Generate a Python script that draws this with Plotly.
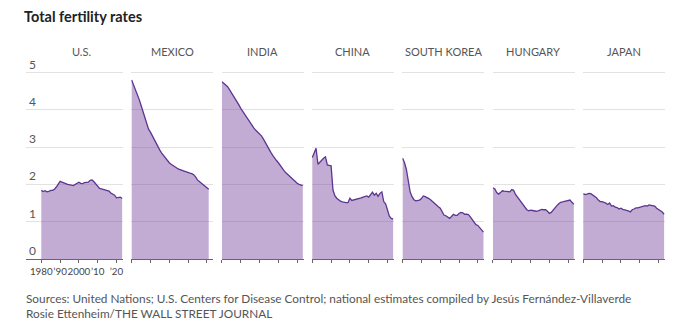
import plotly.graph_objects as go

# ---------------- data ----------------
countries = ["U.S.", "MEXICO", "INDIA", "CHINA", "SOUTH KOREA", "HUNGARY", "JAPAN"]

years = list(range(1980, 2024))
years_mexico = list(range(1980, 2022))

us = [1.84, 1.81, 1.83, 1.80, 1.81, 1.84, 1.84, 1.87, 1.93, 2.01,
      2.08, 2.06, 2.05, 2.02, 2.00, 1.98, 1.98, 1.97, 2.00, 2.01,
      2.06, 2.03, 2.02, 2.05, 2.05, 2.06, 2.11, 2.12, 2.07, 2.00,
      1.93, 1.89, 1.88, 1.86, 1.86, 1.84, 1.82, 1.77, 1.73, 1.71,
      1.64, 1.66, 1.66, 1.62]

mexico = [4.80, 4.68, 4.56, 4.44, 4.28, 4.12, 3.96, 3.80, 3.63, 3.48,
          3.40, 3.30, 3.19, 3.10, 3.01, 2.92, 2.84, 2.77, 2.70, 2.63,
          2.58, 2.54, 2.50, 2.47, 2.44, 2.41, 2.39, 2.36, 2.34, 2.32,
          2.31, 2.30, 2.29, 2.26, 2.20, 2.12, 2.08, 2.04, 2.00, 1.95,
          1.91, 1.87]

india = [4.75, 4.70, 4.66, 4.62, 4.54, 4.46, 4.39, 4.32, 4.23, 4.13,
         4.04, 3.96, 3.88, 3.80, 3.72, 3.65, 3.58, 3.51, 3.45, 3.40,
         3.35, 3.30, 3.22, 3.12, 3.03, 2.95, 2.86, 2.78, 2.70, 2.64,
         2.58, 2.50, 2.43, 2.37, 2.31, 2.26, 2.21, 2.16, 2.12, 2.07,
         2.03, 2.00, 1.98, 1.97]

china = [2.72, 2.85, 2.97, 2.54, 2.60, 2.63, 2.70, 2.74, 2.52, 2.51,
         2.50, 1.85, 1.70, 1.63, 1.58, 1.55, 1.53, 1.51, 1.51, 1.51,
         1.63, 1.57, 1.58, 1.59, 1.60, 1.62, 1.64, 1.66, 1.68, 1.69,
         1.66, 1.72, 1.79, 1.71, 1.76, 1.68, 1.76, 1.80, 1.54, 1.48,
         1.28, 1.15, 1.09, 1.07]

south_korea = [2.70, 2.58, 2.40, 2.06, 1.80, 1.67, 1.59, 1.56, 1.56, 1.58,
               1.62, 1.69, 1.67, 1.65, 1.62, 1.58, 1.53, 1.48, 1.43, 1.40,
               1.36, 1.26, 1.18, 1.16, 1.12, 1.09, 1.14, 1.20, 1.17, 1.17,
               1.22, 1.25, 1.24, 1.20, 1.20, 1.19, 1.13, 1.05, 0.97, 0.92,
               0.90, 0.84, 0.76, 0.72]

hungary = [1.91, 1.88, 1.78, 1.74, 1.78, 1.83, 1.82, 1.81, 1.80, 1.80,
           1.86, 1.84, 1.73, 1.66, 1.60, 1.51, 1.43, 1.36, 1.32, 1.29,
           1.31, 1.30, 1.28, 1.28, 1.29, 1.32, 1.33, 1.32, 1.32, 1.28,
           1.22, 1.25, 1.32, 1.36, 1.43, 1.48, 1.52, 1.53, 1.54, 1.54,
           1.56, 1.58, 1.52, 1.47]

japan = [1.75, 1.73, 1.74, 1.76, 1.75, 1.72, 1.68, 1.64, 1.58, 1.54,
         1.54, 1.53, 1.50, 1.46, 1.50, 1.42, 1.43, 1.39, 1.38, 1.34,
         1.36, 1.33, 1.32, 1.29, 1.29, 1.26, 1.32, 1.34, 1.37, 1.37,
         1.39, 1.39, 1.41, 1.43, 1.42, 1.45, 1.44, 1.43, 1.42, 1.36,
         1.33, 1.30, 1.26, 1.20]

series = [
    (years, us), (years_mexico, mexico), (years, india), (years, china),
    (years, south_korea), (years, hungary), (years, japan),
]

tick_vals = [1980, 1990, 2000, 2010, 2020]
tick_text = ["1980", "\u201990", "2000", "\u201910", "\u201920"]
y_ticks = [0, 1, 2, 3, 4, 5]

title_text = "Total fertility rates"
source_text = ("Sources: United Nations; U.S. Centers for Disease Control; national estimates "
               "compiled by Jesús Fernández-Villaverde<br>Rosie Ettenheim/THE WALL STREET JOURNAL")

# ---------------- style / layout ----------------
W, H = 690, 334
FONT = "Lato"
LINE = "#5b3590"
FILL = "rgba(120,72,160,0.45)"
GRID = "#e2e2e2"
AXIS = "#666666"

px_per_year = 1.88
first_x0 = 41.3          # pixel of 1980 in first panel
pitch = 90.33
right_year = 2023.4
left_year = 1979.8
label_left = 26          # first panel extends left to hold y labels

top_px, bottom_px = 70, 259
plot_h = bottom_px - top_px
y_max = plot_h / 37.3

fig = go.Figure()
layout = dict(
    width=W, height=H,
    margin=dict(l=0, r=0, t=top_px, b=H - bottom_px),
    paper_bgcolor="white", plot_bgcolor="white",
    showlegend=False,
    font=dict(family=FONT, color="#555"),
    annotations=[],
)

for i, (name, (xs, ys)) in enumerate(zip(countries, series)):
    n = "" if i == 0 else str(i + 1)
    x0 = first_x0 + pitch * i
    if i == 0:
        l_px = label_left
        r_start = 1980 - (x0 - label_left) / px_per_year
    else:
        l_px = x0 - (1980 - left_year) * px_per_year
        r_start = left_year
    r_px = x0 + (right_year - 1980) * px_per_year

    fig.add_trace(go.Scatter(
        x=xs, y=ys, mode="lines",
        line=dict(color=LINE, width=1.3),
        fill="tozeroy", fillcolor=FILL,
        xaxis="x" + n, yaxis="y" + n, hoverinfo="skip",
    ))

    layout["xaxis" + n] = dict(
        domain=[l_px / W, r_px / W], range=[r_start, right_year],
        anchor="y" + n, tickvals=tick_vals, ticktext=tick_text,
        showticklabels=(i == 0), ticks="outside", ticklen=3, tickcolor=AXIS,
        tickangle=0,
        showgrid=False, zeroline=False, showline=True, linecolor=AXIS, linewidth=1,
        tickfont=dict(size=9.8, color="#444", family=FONT),
        fixedrange=True,
    )
    layout["yaxis" + n] = dict(
        domain=[0, 1], range=[0, y_max], anchor="x" + n,
        tickvals=y_ticks, showticklabels=False, ticks="",
        showgrid=True, gridcolor=GRID, gridwidth=1, zeroline=False,
        fixedrange=True,
    )

    cx = (x0 + (2023 - 1980) * px_per_year / 2) / W
    layout["annotations"].append(dict(
        text=name, xref="paper", yref="paper",
        x=cx, y=(bottom_px - 52) / plot_h, xanchor="center", yanchor="middle",
        showarrow=False, font=dict(size=11, color="#555", family=FONT),
    ))

# y-axis labels sitting just above their gridlines in the first panel
for v in y_ticks:
    layout["annotations"].append(dict(
        text=str(v), xref="paper", yref="y", x=(label_left + 0.5) / W, y=v,
        xanchor="left", yanchor="bottom", yshift=-1, showarrow=False,
        font=dict(size=12, color="#555", family=FONT),
    ))

layout["annotations"].append(dict(
    text=source_text, xref="paper", yref="paper", align="left",
    x=24 / W, y=(bottom_px - 305.5) / plot_h, xanchor="left", yanchor="middle",
    showarrow=False, font=dict(size=11.8, color="#555", family=FONT),
))

layout["title"] = dict(
    text="<b>" + title_text + "</b>", xref="container", yref="container",
    x=24 / W, y=1 - 17 / H, xanchor="left", yanchor="middle",
    font=dict(size=14.5, color="#222", family=FONT),
)

fig.update_layout(**layout)
fig.write_html("out.html", config={"displayModeBar": False})
